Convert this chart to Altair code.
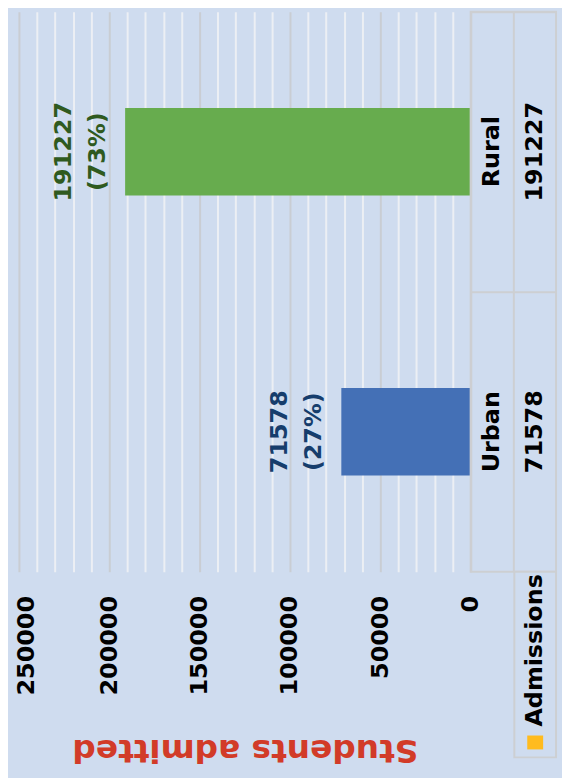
import altair as alt
import pandas as pd

# ---- data ----
categories = ["Rural", "Urban"]
admissions = [191227, 71578]
percent_labels = ["(73%)", "(27%)"]
bar_colors = ["#67ac4e", "#4470b6"]
label_colors = ["#2f5a1f", "#163d6c"]
axis_max = 250000
major_step = 50000
minor_step = 10000
series_name = "Admissions"
value_title = "Students admitted"

FONT = "DejaVu Sans"
BG = "#cfdcef"
GRID_MAJOR = "#c9cdd3"
GRID_MINOR = "#eceff4"
TABLE_LINE = "#cdcfd2"

bars_df = pd.DataFrame({
    "cat": categories,
    "value": admissions,
    "lbl": [[str(v), p] for v, p in zip(admissions, percent_labels)],
})

table_rows = []
for c, v in zip(categories, admissions):
    table_rows.append({"cat": c, "col": "name", "txt": c})
    table_rows.append({"cat": c, "col": "value", "txt": str(v)})
table_df = pd.DataFrame(table_rows)
legend_df = pd.DataFrame({"series": [series_name]})

minor_vals = list(range(0, axis_max + 1, minor_step))

W_MAIN = 455
H = 564
W_TABLE = 86

x_enc = alt.X(
    "value:Q",
    scale=alt.Scale(domain=[0, axis_max], reverse=True, nice=False, zero=True),
    axis=alt.Axis(
        values=minor_vals,
        grid=True,
        gridColor=alt.condition(f"datum.value % {major_step} === 0",
                                alt.value(GRID_MAJOR), alt.value(GRID_MINOR)),
        gridWidth=2,
        ticks=False,
        tickSize=0,
        domain=False,
        format="d",
        labelExpr=f"datum.value % {major_step} === 0 ? datum.label : ''",
        labelAngle=270,
        labelFont=FONT,
        labelFontSize=24,
        labelFontWeight="bold",
        labelColor="black",
        labelPadding=24,
        labelOverlap=False,
        labelOffset=alt.condition(f"datum.value == {axis_max}", alt.value(8), alt.value(0)),
        title=value_title,
        titleAngle=180,
        titleFont=FONT,
        titleFontSize=33,
        titleFontWeight="bold",
        titleColor="#d23b28",
        titleBaseline="alphabetic",
        titleAlign="center",
        titleX=W_MAIN / 2,
        titleY=169,
    ),
)
y_enc = alt.Y(
    "cat:N",
    sort=categories,
    scale=alt.Scale(domain=categories, paddingInner=0.688, paddingOuter=0.344),
    axis=None,
)

base = alt.Chart(bars_df).encode(x=x_enc, y=y_enc)
bars = base.mark_bar().encode(
    color=alt.Color("cat:N", scale=alt.Scale(domain=categories, range=bar_colors), legend=None)
)
labels = base.mark_text(
    angle=270, align="center", baseline="bottom", dy=-50,
    font=FONT, fontSize=24, fontWeight="bold", lineHeight=35,
).encode(
    text=alt.Text("lbl:N"),
    color=alt.Color("cat:N", scale=alt.Scale(domain=categories, range=label_colors), legend=None),
)
main = alt.layer(bars, labels).resolve_scale(color="independent").properties(
    width=W_MAIN, height=H, view=alt.ViewBackground(stroke=None)
)

# ---- data table to the right ----
tbase = alt.Chart(table_df).encode(
    x=alt.X("col:N", sort=["name", "value"],
            scale=alt.Scale(type="band", domain=["name", "value"], paddingInner=0, paddingOuter=0),
            axis=alt.Axis(grid=True, bandPosition=0, gridColor=TABLE_LINE, gridWidth=2,
                          labels=False, ticks=False, domain=False, title=None)),
    y=alt.Y("cat:N", sort=categories,
            scale=alt.Scale(type="band", domain=categories, paddingInner=0, paddingOuter=0),
            axis=alt.Axis(grid=True, bandPosition=0, gridColor=TABLE_LINE, gridWidth=2,
                          labels=False, ticks=False, domain=False, title=None)),
)
ttext = tbase.mark_text(
    angle=270, align="center", baseline="middle",
    font=FONT, fontSize=24, fontWeight="bold", color="black",
).encode(text="txt:N")

lbase = alt.Chart(legend_df)
lbox = lbase.mark_rect(fill=BG, stroke=TABLE_LINE, strokeWidth=2).encode(
    x=alt.value(44), x2=alt.value(86), y=alt.value(564), y2=alt.value(751)
)
lkey = lbase.mark_rect(color="#ffbb1e").encode(
    x=alt.value(57), x2=alt.value(73), y=alt.value(729), y2=alt.value(743)
)
ltext = lbase.mark_text(
    angle=270, align="left", baseline="middle",
    font=FONT, fontSize=24, fontWeight="bold", color="black",
).encode(x=alt.value(65), y=alt.value(720), text="series:N")

table = alt.layer(ttext, lbox, lkey, ltext).properties(
    width=W_TABLE, height=H, view=alt.ViewBackground(stroke=TABLE_LINE, strokeWidth=2)
)

chart = alt.hconcat(main, table, spacing=0, bounds="flush").properties(
    background=BG,
    padding={"left": 7, "top": 0, "right": 4, "bottom": 10},
)

chart.save("out.html", embed_options={"renderer": "svg", "actions": False})
